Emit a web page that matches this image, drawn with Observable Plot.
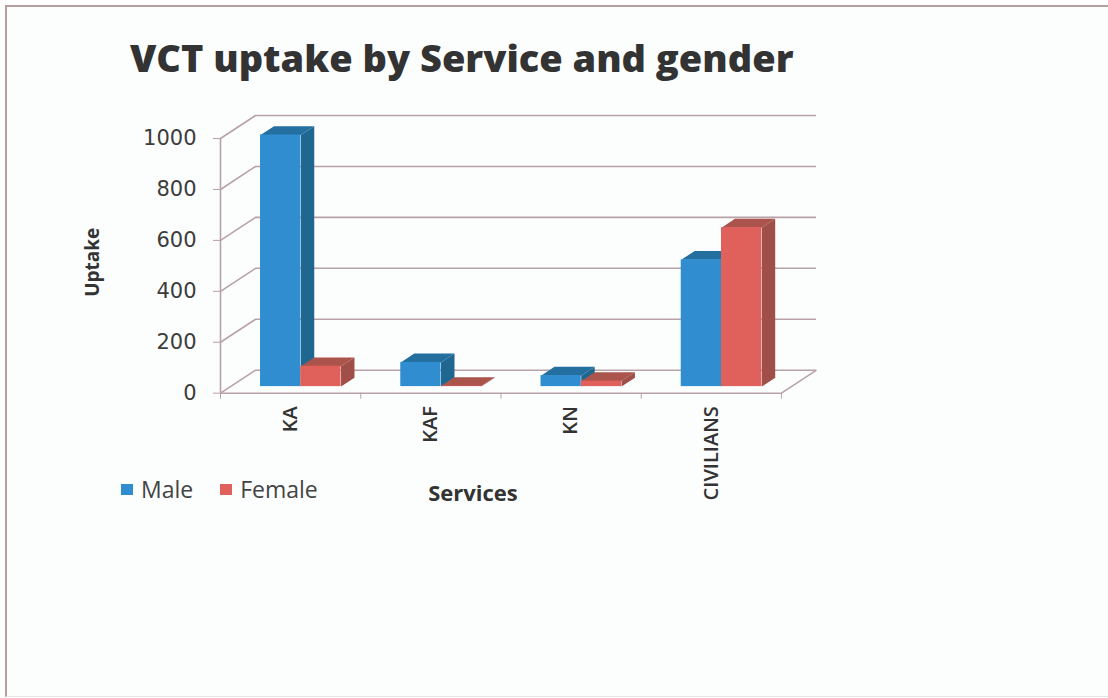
<!DOCTYPE html>
<html>
<head>
<meta charset="utf-8">
<script src="https://cdn.jsdelivr.net/npm/d3@7"></script>
<script src="https://cdn.jsdelivr.net/npm/@observablehq/plot@0.6"></script>
<style>
  html, body { margin: 0; padding: 0; background: #fefefe; }
  #page { position: relative; width: 1108px; height: 698px; overflow: hidden; }
  #frame { position: absolute; left: 5px; top: 5px; width: 1120px; height: 692px; box-sizing: border-box;
           border: 2px solid #b5a0a0; border-right: none; border-bottom: 1px solid #e6e6e6; background: #fcfefe; }
  #title { position: absolute; left: 130px; top: 34px; font: 800 37px "Open Sans", sans-serif; color: #333; white-space: nowrap; line-height: 48px; transform-origin: left center; transform: scaleX(1.026); }
  #chart { position: absolute; left: 0; top: 85px; }
  #chart svg { background: transparent !important; display: block; }
  #legend { position: absolute; left: 121px; top: 477px; display: flex; align-items: center; font: 500 23px "Open Sans", sans-serif; color: #444; line-height: 24px; }
  #legend i { display: inline-block; width: 12px; height: 11px; margin-right: 8px; }
  #legend span { margin-right: 27px; display: flex; align-items: center; }
</style>
</head>
<body>
<div id="page">
  <div id="frame"></div>
  <div id="title">VCT uptake by Service and gender</div>
  <div id="chart"></div>
  <div id="legend"></div>
</div>
<script>
const categories = ["KA", "KAF", "KN", "CIVILIANS"];
const seriesNames = ["Male", "Female"];
const male = [988, 95, 43, 498];
const female = [80, 2, 22, 624];
const yTicks = [0, 200, 400, 600, 800, 1000];

const frontColors = { Male: "#2f8dd0", Female: "#e0605c" };
const topColors = { Male: "#236f9f", Female: "#aa544c" };
const sideColors = { Male: "#1f6690", Female: "#a04e48" };
const gridColor = "#b8a2a8";

// oblique projection: a full step of depth moves a point this far along x and y
const depthX = 0.25;
const depthY = 90.4;
const barFront = 0.286, barBack = 0.67;
const gap = 0.214, barWidth = 0.287;

const px = (x, d) => x + d * depthX;
const py = (v, d) => v + d * depthY;

const bars = seriesNames.flatMap((s, si) => categories.map((c, i) => ({
  series: s, i, value: (s === "Male" ? male : female)[i],
  x0: i + gap + si * barWidth, x1: i + gap + (si + 1) * barWidth
})));

const faces = (b) => {
  const top = [[b.x0, barFront], [b.x1, barFront], [b.x1, barBack], [b.x0, barBack]]
    .map(([x, d]) => ({ x: px(x, d), y: py(b.value, d) }));
  const side = [[0, barFront], [b.value, barFront], [b.value, barBack], [0, barBack]]
    .map(([v, d]) => ({ x: px(b.x1, d), y: py(v, d) }));
  return { top, side };
};

const wallLines = yTicks.map(t => ({ t }));
const H = 425;

const barMarks = bars.flatMap(b => {
  const f = faces(b);
  return [
    Plot.line(f.side, { x: "x", y: "y", fill: sideColors[b.series], stroke: "none", curve: "linear-closed" }),
    Plot.line(f.top, { x: "x", y: "y", fill: topColors[b.series], stroke: "none", curve: "linear-closed" }),
    Plot.rect([b], {
      x1: d => px(d.x0, barFront), x2: d => px(d.x1, barFront),
      y1: () => py(0, barFront), y2: d => py(d.value, barFront),
      fill: frontColors[b.series], inset: 0
    })
  ];
});

const chart = Plot.plot({
  width: 1108, height: H,
  marginLeft: 220, marginRight: 292, marginTop: 30, marginBottom: 117.3,
  style: { background: "transparent", overflow: "visible" },
  x: { domain: [0, categories.length + depthX], axis: null },
  y: { domain: [0, py(1000, 1)], axis: null },
  marks: [
    // back wall gridlines
    Plot.ruleY(yTicks, { x1: px(0, 1), x2: px(categories.length, 1), y: t => py(t, 1), stroke: gridColor, strokeWidth: 1.6 }),
    // left wall diagonals
    Plot.link(wallLines, { x1: () => px(0, 0), y1: d => d.t, x2: () => px(0, 1), y2: d => py(d.t, 1), stroke: gridColor, strokeWidth: 1.6 }),
    // right floor diagonal
    Plot.link([0], { x1: () => px(categories.length, 0), y1: () => 0, x2: () => px(categories.length, 1), y2: () => py(0, 1), stroke: gridColor, strokeWidth: 1.6 }),
    Plot.ruleX([0], { y1: 0, y2: 1000, stroke: gridColor, strokeWidth: 1.6 }),
    Plot.ruleY([0], { x1: 0, x2: categories.length, stroke: gridColor, strokeWidth: 1.6 }),
    ...barMarks,
    Plot.axisY(yTicks, { anchor: "left", tickSize: 7, tickPadding: 17, stroke: gridColor, label: null,
      tickFormat: d3.format("d"), fontSize: 21, fontFamily: "DejaVu Sans", color: "#3c3c3c" }),
    Plot.axisX(d3.range(categories.length + 1), { anchor: "bottom", tickSize: 6, tickFormat: () => "", stroke: gridColor, label: null }),
    Plot.axisX(categories.map((c, i) => i + 0.5), { anchor: "bottom", tickSize: 0, tickPadding: 13, tickRotate: -90,
      tickFormat: v => categories[Math.floor(v)], label: null, fontSize: 20, fontWeight: 600, fontFamily: "Open Sans", color: "#333" }),
    Plot.text(["Uptake"], { x: -0.907, y: 514, rotate: -90, fontSize: 19, fontWeight: 700, fontFamily: "Open Sans", fill: "#333" }),
    Plot.text(["Services"], { x: 1.8, y: -395, fontSize: 22, fontWeight: 700, fontFamily: "Open Sans", fill: "#333" })
  ]
});
document.getElementById("chart").append(chart);

const legend = document.getElementById("legend");
seriesNames.forEach(s => {
  const el = document.createElement("span");
  el.innerHTML = `<i style="background:${frontColors[s]}"></i>${s}`;
  legend.append(el);
});
</script>
</body>
</html>
